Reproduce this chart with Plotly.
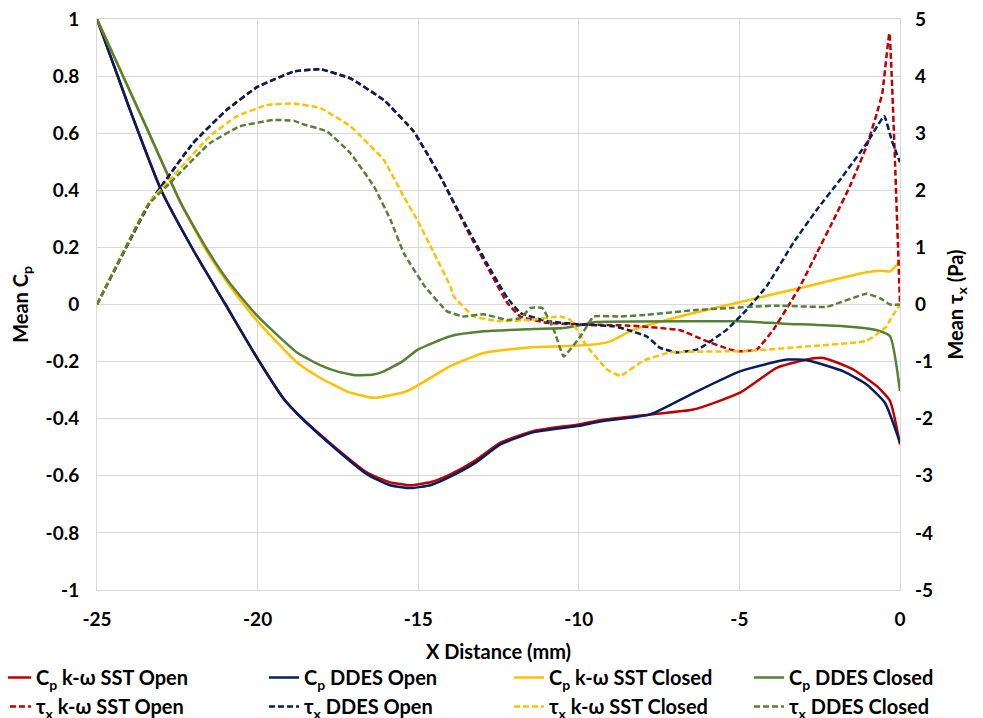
import plotly.graph_objects as go

# ---------- data ----------
x_cp_sst_open = [-25, -24, -23, -22, -21, -20, -19.17, -18.66, -17.63, -16.59, -15.9, -15.24, -14.6, -14.0, -13.2,
                 -12.44, -11.4, -10, -9.33, -7.78, -6.43, -4.98, -3.84, -3.0, -2.39, -1.45, -0.72, -0.31, 0]
cp_sst_open = [1.0, 0.69, 0.40, 0.19, 0.0, -0.19, -0.333, -0.394, -0.496, -0.589, -0.622, -0.633, -0.622, -0.595, -0.545,
               -0.484, -0.443, -0.42, -0.405, -0.385, -0.368, -0.309, -0.222, -0.195, -0.187, -0.228, -0.286, -0.338, -0.49]

x_cp_ddes_open = [-25, -24, -23, -22, -21, -20, -19.17, -18.66, -17.63, -16.59, -15.9, -15.24, -14.6, -14.0, -13.2,
                  -12.44, -11.4, -10, -9.33, -7.78, -6.43, -4.98, -3.52, -2.9, -1.76, -1.04, -0.47, 0]
cp_ddes_open = [1.0, 0.69, 0.40, 0.19, 0.0, -0.19, -0.333, -0.394, -0.5, -0.595, -0.632, -0.643, -0.632, -0.603, -0.553,
                -0.49, -0.447, -0.425, -0.41, -0.385, -0.31, -0.234, -0.193, -0.195, -0.234, -0.28, -0.344, -0.484]

x_cp_sst_closed = [-25, -23.5, -22.39, -21.6, -20.87, -20, -18.75, -18.0, -17.2, -16.38, -15.34, -14.0, -12.96, -11.4,
                   -10, -9.33, -9.02, -8.29, -6.43, -5, -3.11, -1.04, -0.62, -0.31, 0]
cp_sst_closed = [1.0, 0.63, 0.355, 0.19, 0.065, -0.059, -0.205, -0.26, -0.305, -0.327, -0.303, -0.216, -0.17, -0.149,
                 -0.144, -0.137, -0.129, -0.088, -0.03, 0.008, 0.058, 0.113, 0.118, 0.116, 0.151]

x_cp_ddes_closed = [-25, -23.5, -22.39, -21.6, -20.87, -20, -18.75, -18.0, -17.5, -16.9, -16.4, -16.07, -15.5, -15.01,
                    -14.0, -12.96, -11.4, -10.47, -9.85, -9.54, -6.22, -5, -3.63, -1.76, -0.72, -0.31, 0]
cp_ddes_closed = [1.0, 0.63, 0.355, 0.198, 0.075, -0.041, -0.17, -0.215, -0.235, -0.248, -0.245, -0.234, -0.2, -0.158,
                  -0.111, -0.094, -0.086, -0.082, -0.07, -0.062, -0.059, -0.059, -0.067, -0.076, -0.09, -0.111, -0.303]

x_tau_sst_open = [-25, -23.37, -22.02, -20.98, -20.01, -18.87, -18.04, -17.11, -16.07, -15.14, -14.31, -13.48, -12.86,
                  -12.23, -11.82, -10.99, -9.95, -8.4, -6.84, -6.12, -5.29, -4.98, -4.46, -3.94, -3.42, -3.11, -2.59,
                  -2.07, -1.56, -1.04, -0.72, -0.55, -0.33, 0]
tau_sst_open = [0, 1.77, 2.82, 3.4, 3.81, 4.08, 4.12, 3.96, 3.58, 3.03, 2.24, 1.31, 0.67,
                0.03, -0.21, -0.32, -0.35, -0.37, -0.45, -0.62, -0.79, -0.82, -0.79, -0.44, 0.03, 0.32, 0.9,
                1.48, 2.07, 2.77, 3.35, 3.7, 4.75, 0]

x_tau_ddes_open = [-25, -23.37, -22.02, -20.98, -20.01, -18.87, -18.04, -17.11, -16.07, -15.14, -14.31, -13.48, -12.86,
                   -12.23, -11.82, -10.99, -9.95, -8.92, -8.5, -7.88, -7.47, -6.95, -6.32, -6.12, -5.39, -4.77, -4.15,
                   -3.32, -2.59, -1.87, -1.04, -0.49, -0.26, 0]
tau_ddes_open = [0, 1.77, 2.82, 3.4, 3.81, 4.08, 4.12, 3.96, 3.58, 3.03, 2.24, 1.35, 0.72,
                 0.12, -0.15, -0.29, -0.35, -0.38, -0.44, -0.56, -0.76, -0.84, -0.79, -0.73, -0.44, -0.09, 0.32,
                 1.08, 1.66, 2.18, 2.82, 3.3, 2.88, 2.49]

x_tau_sst_closed = [-25, -23.4, -22.74, -21.5, -20.67, -19.73, -18.87, -18.04, -17.11, -16.07, -15.45, -15.03, -14.51,
                    -14.0, -13.89, -13.27, -12.54, -11.5, -10.58, -10.26, -9.75, -9.12, -8.71, -7.98, -7.16, -5.29,
                    -4.88, -2.8, -1.45, -1.04, -0.72, -0.41, -0.31, 0]
tau_sst_closed = [0, 1.77, 2.18, 2.94, 3.29, 3.49, 3.52, 3.44, 3.12, 2.53, 1.89, 1.48, 0.9,
                  0.32, 0.14, -0.21, -0.29, -0.27, -0.21, -0.27, -0.73, -1.14, -1.25, -0.98, -0.84, -0.82,
                  -0.82, -0.73, -0.67, -0.64, -0.52, -0.38, -0.27, 0]

x_tau_ddes_closed = [-25, -23.4, -22.74, -21.5, -20.56, -19.52, -18.87, -18.66, -17.84, -17.11, -16.38, -15.86, -15.45,
                     -14.8, -14.1, -13.58, -12.96, -12.23, -11.82, -11.5, -11.14, -10.78, -10.47, -9.95, -9.54, -8.71,
                     -7.88, -6.43, -5.29, -3.84, -2.28, -1.04, -0.62, -0.31, 0]
tau_ddes_closed = [0, 1.75, 2.12, 2.82, 3.12, 3.23, 3.22, 3.17, 3.03, 2.65, 2.07, 1.48, 0.9,
                   0.32, -0.12, -0.21, -0.17, -0.27, -0.24, -0.06, -0.06, -0.44, -0.91, -0.56, -0.21, -0.21,
                   -0.18, -0.1, -0.06, -0.02, -0.04, 0.19, 0.11, 0, 0]

x_ticks = [-25, -20, -15, -10, -5, 0]
x_ticktext = ["-25", "-20", "-15", "-10", "-5", "0"]
y_ticks = [1, 0.8, 0.6, 0.4, 0.2, 0, -0.2, -0.4, -0.6, -0.8, -1]
y_ticktext = ["1", "0.8", "0.6", "0.4", "0.2", "0", "-0.2", "-0.4", "-0.6", "-0.8", "-1"]
y2_ticks = [5, 4, 3, 2, 1, 0, -1, -2, -3, -4, -5]
y2_ticktext = ["5", "4", "3", "2", "1", "0", "-1", "-2", "-3", "-4", "-5"]

names = ["C<sub>p</sub> k-ω SST Open", "C<sub>p</sub> DDES Open", "C<sub>p</sub> k-ω SST Closed", "C<sub>p</sub> DDES Closed",
         "τ<sub>x</sub> k-ω SST Open", "τ<sub>x</sub> DDES Open", "τ<sub>x</sub> k-ω SST Closed", "τ<sub>x</sub> DDES Closed"]

RED, BLUE, YEL, GRN = "#C00000", "#002060", "#FFC000", "#548235"
GRID = "#D9D9D9"
FONT = "Lato"
legend_ids = ["legend", "legend2", "legend3", "legend4"]

fig = go.Figure()
solid = [(x_cp_sst_open, cp_sst_open, RED), (x_cp_ddes_open, cp_ddes_open, BLUE),
         (x_cp_sst_closed, cp_sst_closed, YEL), (x_cp_ddes_closed, cp_ddes_closed, GRN)]
dashed = [(x_tau_sst_open, tau_sst_open, RED), (x_tau_ddes_open, tau_ddes_open, BLUE),
          (x_tau_sst_closed, tau_sst_closed, YEL), (x_tau_ddes_closed, tau_ddes_closed, GRN)]

for i, (xs, ys, c) in enumerate(solid):
    fig.add_trace(go.Scatter(x=xs, y=ys, mode="lines", name=names[i], legend=legend_ids[i],
                             line=dict(color=c, width=2.5, shape="spline", smoothing=0.5), yaxis="y"))
for i, (xs, ys, c) in enumerate(dashed):
    fig.add_trace(go.Scatter(x=xs, y=ys, mode="lines", name=names[4 + i], legend=legend_ids[i],
                             line=dict(color=c, width=2.5, dash="6px,3px", shape="spline", smoothing=0.3), yaxis="y2"))

leg_common = dict(orientation="v", y=-0.1191, yanchor="top",
                  xanchor="left", itemwidth=30, tracegroupgap=0, bgcolor="rgba(0,0,0,0)",
                  font=dict(size=20, family=FONT, weight=700, color="black"))
leg_x = [-0.1258, 0.208, 0.5131, 0.8120]

# the page body has an 8px default margin, so the figure is 8px smaller than the window
fig.update_layout(
    width=975, height=710,
    margin=dict(l=89, r=83, t=11, b=128, autoexpand=False),
    paper_bgcolor="white", plot_bgcolor="white",
    font=dict(family=FONT, size=19, color="black", weight=700),
    xaxis=dict(range=[-25, 0], tickvals=x_ticks, ticktext=x_ticktext, showgrid=True, gridcolor=GRID, gridwidth=1,
               zeroline=False, showline=True, linecolor=GRID, mirror=True, ticks="", ticklabelstandoff=12,
               automargin=False, ticklabeloverflow="allow",
               title=dict(text="X Distance (mm)", standoff=16, font=dict(size=20, family=FONT, weight=700))),
    yaxis=dict(range=[-1, 1], tickvals=y_ticks, ticktext=y_ticktext, showgrid=True, gridcolor=GRID, gridwidth=1,
               zeroline=False, showline=True, linecolor=GRID, mirror=True, ticks="", ticklabelstandoff=13,
               automargin=False, ticklabeloverflow="allow",
               title=dict(text="Mean C<sub>p</sub>", standoff=14, font=dict(size=20, family=FONT, weight=700))),
    yaxis2=dict(range=[-5, 5], tickvals=y2_ticks, ticktext=y2_ticktext, overlaying="y", side="right",
                showgrid=False, zeroline=False, showline=False, ticks="", ticklabelstandoff=14,
                automargin=False, ticklabeloverflow="allow",
                title=dict(text="Mean τ<sub>x</sub> (Pa)", standoff=16, font=dict(size=20, family=FONT, weight=700))),
    showlegend=True,
    legend=dict(x=leg_x[0], **leg_common),
    legend2=dict(x=leg_x[1], **leg_common),
    legend3=dict(x=leg_x[2], **leg_common),
    legend4=dict(x=leg_x[3], **leg_common),
)

fig.write_html("out.html")
